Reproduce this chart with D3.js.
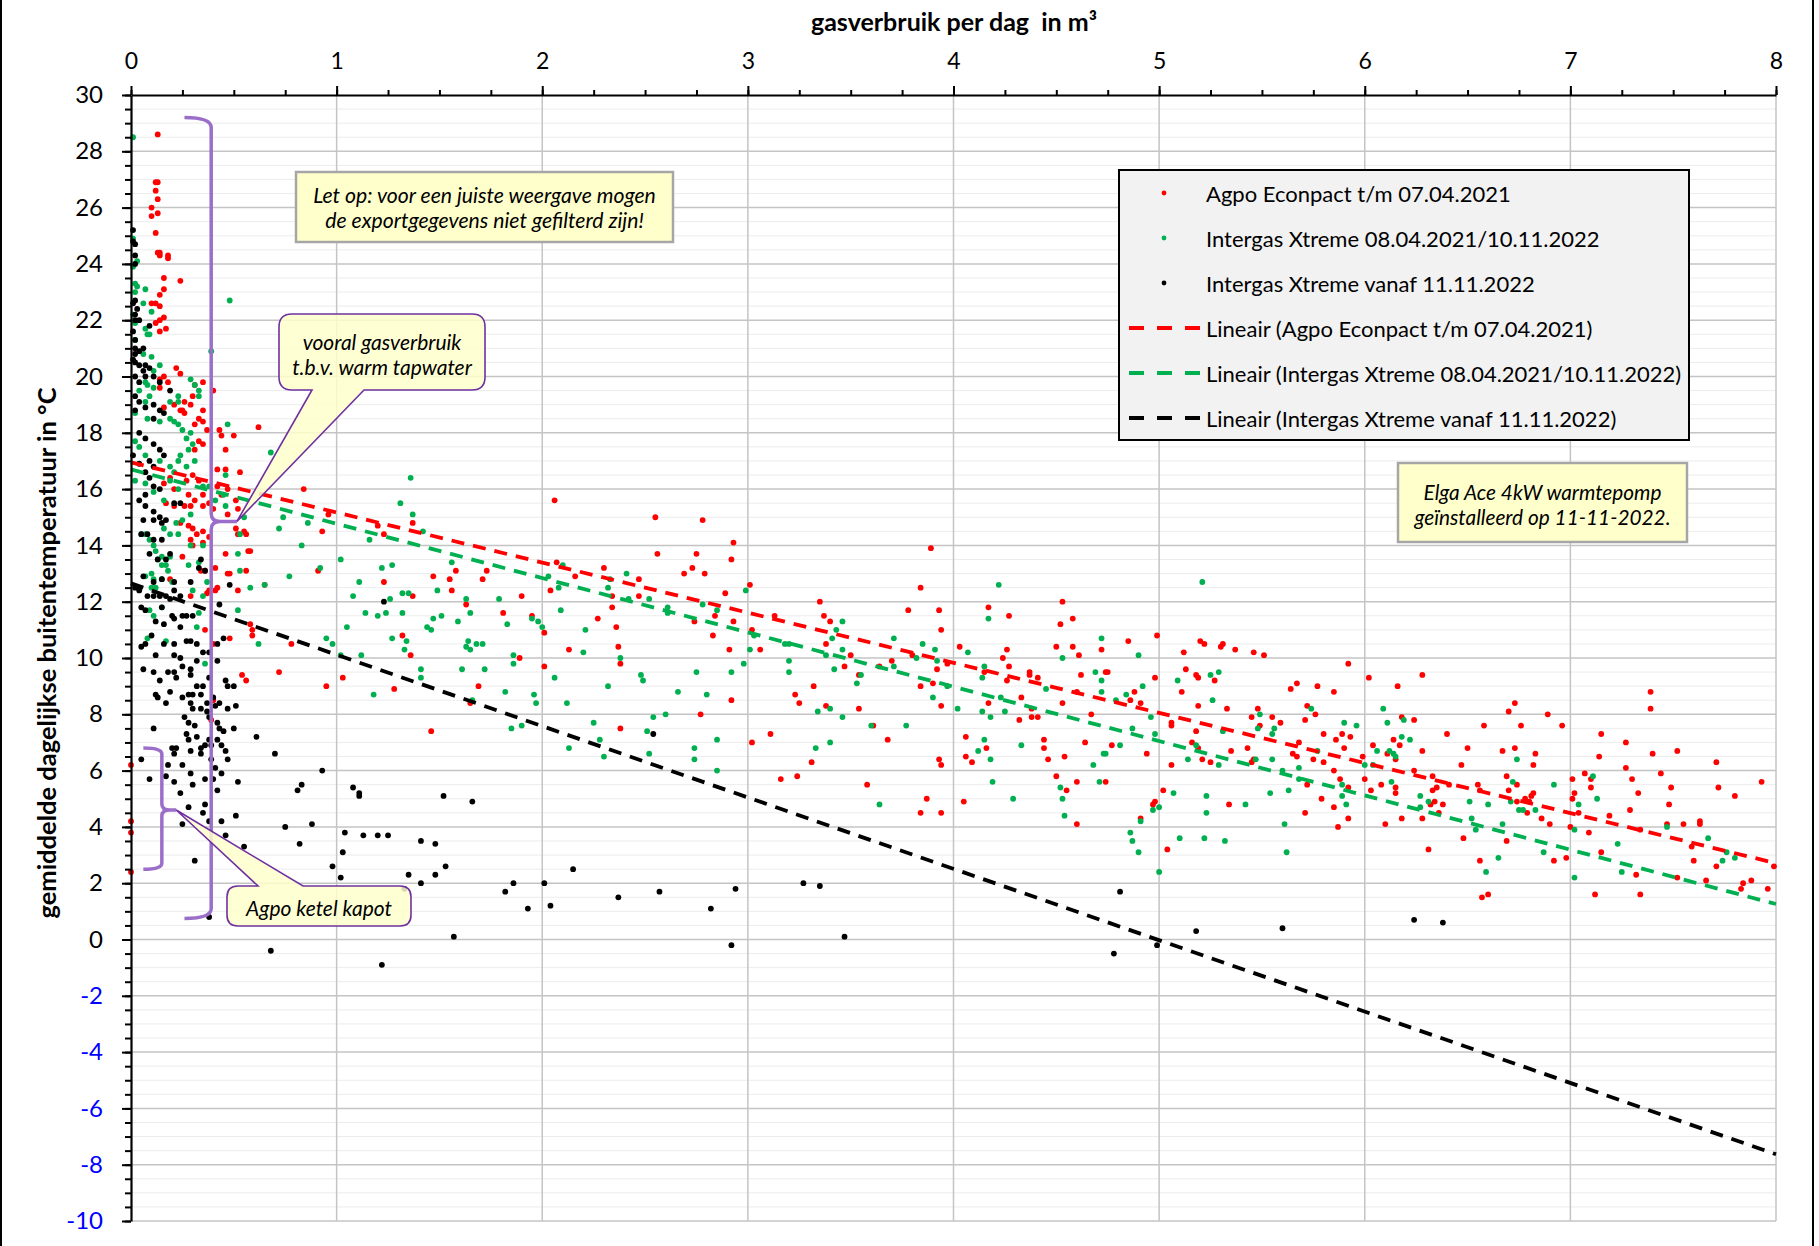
<!DOCTYPE html>
<html>
<head>
<meta charset="utf-8">
<script src="https://cdn.jsdelivr.net/npm/d3@7"></script>
<style>
  body { margin: 0; background: #fff; }
  svg { display: block; font-family: Lato, "Open Sans", sans-serif; }
</style>
</head>
<body>
<script>
// gasverbruik (m3/dag) vs gemiddelde buitentemperatuur
const agpoPoints = [
  [0.13,28.6],[0.12,26.9],[0.13,26.9],[0.12,26.6],[0.13,26.3],[0.1,26.0],[0.13,25.8],[0.1,25.7],[0.12,25.1],[0.13,24.4],[0.14,24.4],[0.14,24.3],[0.18,24.3],[0.18,24.2],[0.16,23.5],[0.24,23.4],[0.16,23.1],[0.14,22.9],[0.12,22.6],[0.1,22.6],[0.14,22.5],[0.16,22.1],[0.14,22.0],[0.12,21.9],[0.17,21.7],[0.14,21.6],
  [0.22,20.3],[0.24,20.1],[0.16,20.0],[0.14,19.9],[0.18,19.8],[0.14,19.6],[0.35,19.8],[0.4,19.5],[0.31,19.7],[0.3,19.3],[0.26,19.1],[0.29,19.0],[0.25,18.8],[0.35,18.8],[0.16,18.9],[0.21,19.0],[0.24,18.8],[0.26,18.7],[0.33,18.5],[0.35,18.4],[0.31,18.3],[0.37,18.1],[0.33,17.7],[0.35,17.6],[0.31,17.4],[0.43,18.1],[0.44,17.9],[0.5,17.9],[0.62,18.2],[0.46,17.4],[0.42,16.7],[0.46,16.7],[0.53,16.6],[0.84,16.0],
  [0.19,16.4],[0.16,16.2],[0.21,16.0],[0.27,16.3],[0.3,16.5],[0.33,16.3],[0.28,15.8],[0.29,15.4],[0.35,15.8],[0.38,15.5],[0.4,15.3],[0.42,16.1],[0.44,15.8],[0.47,16.0],[0.51,15.6],[0.52,15.3],
  [0.17,15.5],[0.21,15.4],[0.26,15.4],[0.31,15.6],[0.35,15.4],[0.24,14.8],[0.28,14.7],[0.3,14.6],[0.32,14.4],[0.35,14.5],[0.38,14.3],[0.29,14.2],[0.3,14.0],[0.35,14.1],[0.25,13.6],[0.34,13.1],[0.36,13.1],[0.41,13.2],[0.47,13.0],[0.48,13.0],[0.19,12.8],[0.38,12.4],[0.41,12.4],[0.42,12.5],[0.37,12.3],[0.29,12.2],[0.52,12.4],[0.46,13.7],[0.52,14.4],[0.55,14.5],[0.56,14.4],[0.47,15.1],[0.51,14.6],[0.58,13.8],[0.56,13.1],[0.65,12.6],[0.59,11.0],[0.59,10.8],[0.58,11.2],[0.48,10.7],[0.36,11.0],[0.4,10.5],[0.4,8.5],[0.39,7.8],[0.54,9.4],[0.56,9.2],[0.72,9.5],[0.78,10.5],[0.91,13.1],[0.93,14.5],[0.95,9.0],[0.57,13.8],
  [0,6.2],[0,4.2],[0,3.8],[0,2.4],
  [0.96,15.1],[1.2,14.7],[1.23,14.4],[1.37,14.8],[1.23,12.7],[1.37,12.2],[1.32,10.8],[1.36,10.1],[1.03,9.3],[1.28,8.9],[1.46,7.4],[1.47,12.9],[1.55,12.8],[1.56,12.4],[1.58,13.1],[1.63,11.9],[1.71,12.8],[1.73,13.1],[1.69,9.0],[1.65,8.4],[1.81,11.6],[1.9,12.2],[1.89,10.0],[1.95,11.5],[2.01,10.9],[2.01,9.7],[2.06,15.6],[2.07,13.4],[2.04,12.4],[2.13,10.3],[2.16,12.9],[2.27,11.4],[2.3,13.2],[2.34,12.2],[2.34,11.8],[2.36,11.1],[2.37,10.4],[2.38,9.8],[2.38,7.5],[2.47,12.8],[2.47,12.2],[2.55,15.0],[2.56,13.7],[2.69,13.0],[2.73,13.2],[2.75,13.7],[2.78,14.9],[2.79,13.0],[2.74,11.3],[2.83,10.8],[2.77,8.0],[2.84,11.5],[2.89,12.3],[2.93,14.1],[2.92,13.5],[2.93,11.3],[2.91,10.3],[2.92,8.5],[3.01,12.6],[3.02,11.0],[3.06,10.3],[3.02,7.0],[3.11,7.3],[3.16,5.7],[3.24,5.8],[3.13,11.5],[3.23,8.7],[3.25,8.4],[3.31,6.3],[3.32,9.0],[3.35,12.0],[3.37,11.5],[3.38,10.5],[3.38,8.3],
  [3.4,11.3],[3.47,9.7],[3.5,10.1],[3.54,8.2],[3.54,9.4],[3.58,5.5],[3.61,7.6],[3.64,9.7],[3.68,7.1],[3.7,9.9],[3.78,11.7],[3.8,10.1],[3.84,12.5],[3.89,13.9],[3.84,9.0],[3.87,5.0],[3.84,4.5],[3.9,9.1],[3.92,9.6],[3.93,11.7],[3.94,11.0],[3.94,8.3],[3.93,6.4],[3.94,6.2],[3.94,4.5],[3.97,9.8],[4.03,10.4],[4.05,4.9],[4.06,7.2],[4.06,6.5],[4.09,6.3],[4.15,9.5],[4.16,6.8],[4.17,8.4],[4.17,11.8],[4.24,10.0],[4.27,9.7],[4.26,10.3],[4.27,11.5],[4.26,9.2],[4.32,7.8],[4.33,8.6],[4.37,9.5],[4.37,9.4],[4.38,8.2],[4.41,7.9],[4.38,7.9],[4.41,9.3],[4.44,7.1],[4.44,6.8],[4.46,6.4],[4.5,5.8],[4.5,10.4],[4.52,11.2],[4.53,12.0],[4.58,11.4],[4.53,8.4],[4.55,5.3],[4.54,6.5],[4.58,10.4],[4.6,8.8],[4.6,5.6],[4.6,4.1],[4.61,10.1],[4.62,9.4],[4.64,7.0],[4.67,8.0],[4.72,10.3],[4.74,9.5],[4.75,9.5],[4.74,5.6],[4.77,6.9],[4.85,10.6],[4.86,8.5],[4.88,8.8],[4.91,8.4],[4.94,6.6],[4.98,9.3],[4.99,10.8],[4.98,4.9],[4.97,4.8],[4.91,4.3],[5.02,5.3],[5.04,3.2],[5.06,7.7],[5.06,7.6],[5.06,6.2],[5.12,10.2],[5.13,9.6],[5.11,8.8],[5.18,9.4],[5.19,9.3],[5.19,8.3],[5.18,7.4],[5.16,7.0],[5.19,6.8],[5.2,10.6],[5.22,10.5],[5.21,6.4],[5.25,6.3],[5.27,9.2],[5.3,10.4],[5.31,10.5],[5.33,8.2],[5.34,4.8],[5.35,6.7],[5.37,10.3],[5.43,6.8],[5.46,10.2],[5.45,7.9],[5.46,6.4],[5.45,6.3],[5.48,8.2],[5.49,7.6],[5.51,10.1],[5.55,7.9],[5.59,7.7],[5.64,8.9],[5.67,9.1],[5.71,7.8],[5.72,8.3],[5.68,7.0],[5.65,6.6],[5.67,6.5],[5.71,4.5],[5.72,5.5],[5.75,6.4],[5.77,9.0],[5.76,8.0],
  [5.85,8.8],[5.92,9.8],[5.8,7.3],[5.86,7.1],[5.89,7.3],[5.93,7.2],[5.9,6.8],[5.8,6.3],[5.85,6.0],[5.88,5.7],[5.79,5.0],[5.85,4.7],[5.92,5.4],[5.92,4.3],[5.87,4.0],[6.02,9.3],[6.16,9.0],[6.28,9.4],[5.99,6.5],[6.0,5.7],[6.03,5.3],[6.04,6.9],[6.08,5.5],[6.1,4.1],[6.11,6.6],[6.14,7.1],[6.17,6.9],[6.15,6.4],[6.15,5.4],[6.15,5.2],[6.18,7.9],[6.18,4.3],[6.24,7.8],[6.24,6.0],[6.28,6.7],[6.28,4.3],[6.31,3.2],[6.33,5.8],[6.33,5.3],[6.35,5.4],[6.32,4.8],[6.34,4.9],[6.36,4.5],[6.38,4.8],[6.4,7.3],[6.41,5.5],[6.47,6.2],[6.48,3.6],[6.5,6.8],[6.55,5.5],[6.56,5.3],[6.56,2.8],[6.57,1.5],[6.6,1.6],[6.58,7.6],[6.67,6.7],[6.69,5.8],[6.7,8.1],[6.73,8.4],[6.73,6.8],[6.74,5.5],[6.7,5.3],[6.69,3.5],[6.76,7.6],[6.74,4.9],[6.78,5.0],[6.8,4.9],[6.81,5.1],[6.82,5.2],[6.79,4.5],[6.82,6.2],[6.83,6.6],[6.86,4.3],[6.89,8.0],[6.9,4.1],[6.92,2.8],[6.96,7.6],[6.98,2.9],[7.0,4.0],[7.01,5.7],[7.01,5.0],[7.02,5.2],[7.04,4.5],[7.07,5.9],[7.09,3.8],[7.1,5.7],[7.1,5.4],[7.12,1.6],[7.14,6.5],[7.15,7.3],[7.15,3.1],[7.19,4.4],[7.27,7.0],[7.27,6.1],[7.29,4.6],[7.3,5.7],[7.33,5.2],[7.32,2.3],[7.34,1.6],[7.34,3.9],[7.39,8.8],[7.39,8.2],[7.4,6.6],[7.44,5.9],[7.47,4.1],[7.48,4.8],[7.49,5.4],[7.52,6.7],[7.52,2.2],[7.55,4.1],[7.59,3.3],[7.6,2.8],[7.63,4.2],[7.63,4.1],[7.66,2.1],[7.71,6.3],[7.71,2.6],[7.72,5.4],[7.8,5.1],[7.83,1.8],[7.84,2.0],[7.88,2.1],[7.93,5.6],[7.96,1.8],[7.99,2.6]
];

const intergasPoints = [
  [0.01,28.5],[0.01,24.9],[0.01,23.9],[0.03,24.1],[0.02,23.3],[0.03,23.2],[0.07,23.1],[0.02,23.0],[0.06,22.6],[0.1,22.3],[0.01,22.2],[0.02,21.9],[0.07,21.7],[0.08,21.5],[0.09,21.5],[0.48,22.7],[0.39,20.9],[0.02,21.3],[0.06,20.8],[0.1,20.7],[0.14,20.4],[0.11,20.2],[0.29,19.9],[0.31,19.7],[0.33,19.5],[0.33,19.3],[0.23,19.3],[0.23,19.1],[0.19,19.1],[0.04,19.5],[0.07,19.8],[0.08,19.7],[0.11,19.6],[0.09,19.3],[0.07,19.1],[0.02,18.7],[0.08,18.5],[0.14,18.4],[0.19,18.5],[0.21,18.4],[0.23,18.3],[0.25,18.1],[0.29,18.0],[0.27,17.8],[0.3,17.6],[0.28,17.4],[0.24,17.2],[0.47,18.3],[0.68,17.3],[0.46,16.5],[0.02,17.7],[0.04,17.5],[0.07,17.2],[0.14,17.0],[0.19,16.8],[0.21,16.6],[0.23,17.0],[0.02,16.3],[0.07,16.2],[0.11,15.9],[0.16,15.6],[0.19,16.3],[0.23,16.0],[0.27,16.8],[0.31,17.0],[0.35,16.1],[0.38,16.1],[0.41,15.6],[0.45,15.8],[0.46,15.4],[0.55,15.0],[0.74,15.0],
  [0.05,14.4],[0.07,14.4],[0.09,14.2],[0.11,14.0],[0.12,13.8],[0.15,13.6],[0.13,13.5],[0.15,13.3],[0.17,13.3],[0.19,13.6],[0.18,13.1],[0.07,12.9],[0.1,13.0],[0.11,12.8],[0.15,12.8],[0.2,12.7],[0.12,12.5],[0.1,12.5],[0.09,11.7],[0.11,11.5],[0.15,11.8],[0.08,10.7],[0.17,10.6],[0.28,13.3],[0.33,13.4],[0.29,14.0],[0.35,14.0],[0.37,12.7],[0.35,12.2],[0.23,14.4],[0.25,14.9],[0.29,15.1],[0.22,14.8],[0.16,14.6],[0.19,14.4],[0.3,12.4],[0.32,11.1],[0.33,11.6],[0.36,9.8],[0.52,13.7],[0.53,13.1],[0.58,12.5],[0.65,12.6],[0.52,11.7],[0.62,10.5],[0.72,14.6],[0.83,14.0],[0.77,12.9],[0.86,14.8],[0.92,13.2],[0.95,10.7],[0.53,14.4],
  [1.36,16.4],[1.31,15.5],[1.37,15.1],[1.42,14.5],[1.16,14.2],[1.02,13.5],[1.22,13.2],[1.27,13.3],[1.11,12.7],[1.08,12.2],[1.32,12.3],[1.35,12.3],[1.26,12.1],[1.14,11.6],[1.2,11.5],[1.24,11.6],[1.32,11.6],[1.05,11.1],[0.98,10.5],[1.02,10.1],[1.12,10.1],[1.27,10.7],[1.34,10.6],[1.33,10.3],[1.18,8.7],[1.41,9.6],[1.41,9.3],[1.44,11.1],[1.46,11.0],[1.47,11.4],[1.51,11.5],[1.49,12.4],[1.56,13.4],[1.59,11.3],[1.63,12.1],[1.65,11.6],[1.64,10.6],[1.63,10.4],[1.65,10.3],[1.68,10.5],[1.71,10.5],[1.61,9.6],[1.72,9.6],[1.66,8.5],[1.79,12.1],[1.83,11.2],[1.82,8.8],[1.85,7.5],[1.9,7.6],[1.86,10.1],[1.86,9.8],[1.95,11.4],[1.98,11.3],[2.0,11.1],[1.96,8.7],[1.97,8.4],[2.03,12.9],[2.08,12.5],[2.1,13.3],[2.09,11.7],[2.06,9.3],[2.12,8.4],[2.13,6.8],[2.21,11.0],[2.2,10.2],[2.25,7.7],[2.28,7.1],[2.3,6.5],[2.32,12.5],[2.33,12.8],[2.32,9.0],[2.38,10.0],[2.41,13.0],[2.42,12.1],[2.48,9.4],[2.49,9.2],[2.52,12.1],[2.54,7.9],[2.51,7.4],[2.52,6.6],[2.6,8.0],[2.61,11.8],[2.61,11.6],[2.66,8.8],[2.75,9.5],[2.74,6.8],[2.74,6.4],[2.78,11.9],[2.8,8.7],[2.85,11.7],[2.85,7.1],[2.85,6.0],[2.92,9.5],[2.98,9.8],[2.99,12.4],[3.01,10.3],[3.03,10.8],[3.18,10.5],[3.2,10.5],[3.2,9.9],[3.2,9.5],[3.34,8.1],[3.33,6.8],[3.38,10.1],
  [3.4,8.2],[3.4,7.0],[3.42,9.6],[3.41,10.7],[3.43,11.0],[3.46,11.3],[3.46,10.3],[3.46,7.9],[3.53,9.1],[3.55,9.4],[3.6,7.6],[3.64,4.8],[3.71,10.7],[3.71,9.7],[3.77,7.6],[3.82,10.0],[3.85,10.5],[3.91,10.3],[3.92,9.9],[3.9,8.6],[3.97,9.0],[4.02,8.2],[4.07,10.2],[4.14,9.3],[4.15,9.7],[4.14,8.1],[4.15,7.1],[4.12,6.7],[4.17,11.4],[4.18,7.9],[4.18,6.4],[4.19,5.6],[4.22,12.6],[4.23,8.6],[4.25,8.1],[4.29,5.0],[4.33,6.9],[4.45,8.9],[4.52,5.4],[4.53,5.0],[4.54,4.4],[4.53,10.0],[4.68,6.2],[4.69,9.5],[4.72,10.7],[4.72,9.2],[4.72,8.8],[4.71,5.6],[4.73,6.6],[4.74,6.6],[4.79,8.5],[4.81,6.9],[4.84,8.7],[4.87,7.5],[4.9,10.1],[4.92,9.0],[4.86,3.8],[4.87,3.5],[4.9,3.1],[4.91,4.2],[4.96,7.9],[4.97,4.6],[4.98,7.3],[5.0,4.7],[5.0,2.4],[5.07,5.2],[5.09,9.2],[5.1,3.6],[5.14,6.4],[5.18,6.9],[5.21,12.7],[5.23,5.1],[5.23,4.5],[5.22,3.6],[5.25,9.4],[5.29,9.5],[5.26,8.5],[5.29,6.2],[5.31,7.4],[5.32,3.5],[5.42,4.8],[5.47,6.4],[5.48,7.5],[5.49,8.0],[5.54,5.2],[5.55,7.3],[5.56,7.5],[5.55,6.4],[5.6,6.0],[5.61,4.1],[5.62,3.1],[5.63,5.3],[5.68,6.1],[5.68,5.7],[5.74,8.2],[5.77,6.7],
  [5.89,5.5],[5.89,5.1],[5.91,4.8],[5.9,7.7],[5.96,7.6],[6.0,6.2],[6.04,6.2],[6.06,6.7],[6.09,8.2],[6.11,7.7],[6.12,6.7],[6.13,5.6],[6.14,6.6],[6.15,6.5],[6.18,7.2],[6.19,7.8],[6.22,7.1],[6.27,5.1],[6.27,4.7],[6.31,4.9],[6.51,4.9],[6.52,4.3],[6.54,3.9],[6.59,2.4],[6.6,4.8],[6.65,2.9],[6.67,4.1],[6.71,4.9],[6.72,5.6],[6.74,6.4],[6.75,4.6],[6.77,4.6],[6.83,4.6],[6.87,3.1],[6.92,5.5],[7.02,3.9],[7.02,2.2],[7.04,4.8],[7.11,5.8],[7.13,5.0],[7.23,3.4],[7.25,2.4],[7.47,4.0],[7.67,3.6],[7.74,2.8],[7.76,3.1],[7.8,2.9]
];

const elgaPoints = [
  [0.01,25.2],[0.01,24.8],[0.02,24.7],[0.02,24.3],[0.02,24.0],[0.02,22.7],[0.01,22.6],[0.02,22.2],[0.03,22.4],[0.02,22.0],[0.04,22.0],[0.09,21.8],[0.01,21.6],[0.02,21.3],[0.02,21.0],[0.02,20.8],[0.04,20.9],[0.06,21.0],[0.01,20.6],[0.02,20.5],[0.04,20.4],[0.07,20.4],[0.09,20.3],[0.06,20.2],[0.02,20.0],[0.04,19.8],[0.07,20.0],[0.11,20.0],[0.14,19.8],[0.19,19.5],[0.02,19.3],[0.04,19.1],[0.02,18.8],[0.07,18.9],[0.11,19.0],[0.14,18.8],[0.16,18.7],[0.11,18.5],[0.04,18.0],[0.07,17.8],[0.11,17.6],[0.14,17.4],[0.16,17.2],[0.09,17.0],[0.11,16.8],[0.07,16.6],[0.04,16.9],[0.01,17.2],[0.09,16.4],[0.11,16.1],[0.14,16.0],[0.07,15.8],[0.04,15.6],[0.07,15.4],[0.11,15.2],[0.21,15.5],[0.24,15.5],[0.14,15.0],
  [0.06,14.9],[0.11,14.9],[0.15,14.8],[0.17,14.9],[0.05,14.4],[0.08,14.4],[0.11,14.2],[0.15,14.2],[0.09,13.7],[0.13,13.5],[0.19,13.7],[0.17,13.5],[0.06,12.9],[0.11,12.7],[0.15,12.8],[0.21,12.7],[0.21,12.4],[0.02,12.5],[0.04,12.4],[0.08,12.2],[0.11,12.2],[0.14,12.2],[0.17,12.2],[0.19,12.1],[0.24,12.2],[0.29,12.7],[0.34,13.5],[0.33,13.2],[0.36,13.1],[0.48,12.6],[0.43,11.9],
  [0.05,11.8],[0.07,11.7],[0.15,11.8],[0.2,11.5],[0.25,11.5],[0.21,11.4],[0.27,11.5],[0.3,11.5],[0.16,11.2],[0.12,11.3],[0.24,11.1],[0.1,10.8],[0.07,10.5],[0.05,10.4],[0.16,10.5],[0.21,10.5],[0.27,10.6],[0.29,10.6],[0.32,10.5],[0.35,10.2],[0.38,10.2],[0.42,10.5],[0.45,10.7],[0.12,10.1],[0.21,10.1],[0.24,10.0],[0.25,9.7],[0.29,9.6],[0.32,9.9],[0.42,9.9],[0.06,9.6],[0.11,9.5],[0.18,9.5],[0.21,9.5],[0.14,9.2],[0.19,8.8],[0.22,9.3],[0.29,9.4],[0.32,9.0],[0.35,9.0],[0.38,9.3],[0.46,9.2],[0.12,8.7],[0.13,8.6],[0.17,8.4],[0.25,8.6],[0.28,8.7],[0.29,8.4],[0.3,8.7],[0.34,8.7],[0.37,8.4],[0.4,8.6],[0.43,8.4],[0.47,9.0],[0.5,9.0],[0.51,8.3],[0.3,8.2],[0.34,8.2],[0.37,8.1],[0.41,8.3],[0.47,8.2],
  [0.11,7.5],[0.26,7.9],[0.28,7.7],[0.31,7.6],[0.38,7.9],[0.42,7.7],[0.43,7.5],[0.5,7.5],[0.27,7.3],[0.28,7.1],[0.32,7.2],[0.38,7.1],[0.45,7.4],[0.42,7.1],[0.2,6.8],[0.22,6.8],[0.21,6.6],[0.29,6.7],[0.34,6.6],[0.34,6.8],[0.36,6.9],[0.39,6.9],[0.44,6.9],[0.46,6.7],[0.47,6.4],[0.05,6.4],[0.18,6.2],[0.25,6.2],[0.29,5.9],[0.39,6.4],[0.41,6.1],[0.44,5.9],[0.09,5.7],[0.17,5.8],[0.21,5.6],[0.3,5.5],[0.36,5.7],[0.4,5.7],[0.42,5.3],[0.24,5.2],[0.52,5.6],[0.28,4.7],[0.35,4.5],[0.36,4.8],[0.38,4.2],[0.44,4.2],[0.51,4.4],[0.25,4.1],[0.46,3.7],[0.55,3.3],[0.31,2.8],[0.38,0.8],
  [0.61,7.2],[0.7,6.6],[0.93,6.0],[0.81,5.3],[0.83,5.5],[0.88,4.1],[0.75,4.0],[0.82,3.4],[0.68,-0.4],
  [1.23,12.0],[1.08,5.4],[1.11,5.2],[1.11,5.1],[1.52,5.1],[1.66,4.9],[1.04,3.8],[1.03,3.1],[1.13,3.7],[1.2,3.7],[1.25,3.7],[1.41,3.5],[1.48,3.4],[0.98,2.6],[1.02,2.2],[1.35,2.3],[1.33,1.8],[1.41,2.0],[1.48,2.3],[1.53,2.6],[1.57,0.1],[1.22,-0.9],[1.82,1.7],[1.86,2.0],[1.93,1.1],[2.01,2.0],[2.04,1.2],[2.15,2.5],[2.37,1.5],[2.54,7.3],[2.57,1.7],[2.82,1.1],[2.94,1.8],[2.92,-0.2],[3.27,2.0],[3.35,1.9],
  [3.47,0.1],[4.81,1.7],[4.78,-0.5],[4.99,-0.2],[5.18,0.3],[5.6,0.4],[6.24,0.7],[6.38,0.6]
];

const seriesNames = ["Agpo Econpact t/m 07.04.2021", "Intergas Xtreme 08.04.2021/10.11.2022", "Intergas Xtreme vanaf 11.11.2022"];
const seriesColors = ["#ff0000", "#00b050", "#000000"];
// linear trendlines: [intercept, slope]
const trendCoefs = [[16.95, -1.78], [16.7, -1.93], [12.65, -2.535]];
const xTickValues = [0, 1, 2, 3, 4, 5, 6, 7, 8];
const yTickValues = [-10, -8, -6, -4, -2, 0, 2, 4, 6, 8, 10, 12, 14, 16, 18, 20, 22, 24, 26, 28, 30];

const W = 1819, H = 1246;
const x = d3.scaleLinear().domain([0, 8]).range([131, 1776]);
const y = d3.scaleLinear().domain([-10, 30]).range([1221, 95]);

const svg = d3.select("body").append("svg").attr("width", W).attr("height", H);
svg.append("rect").attr("width", W).attr("height", H).attr("fill", "#fff");

// outer frame bits at the left and right edge
svg.append("line").attr("x1", 1).attr("x2", 1).attr("y1", 0).attr("y2", H).attr("stroke", "#000").attr("stroke-width", 2);
svg.append("line").attr("x1", 1813).attr("x2", 1813).attr("y1", 0).attr("y2", H).attr("stroke", "#000").attr("stroke-width", 2);

// gridlines
const grid = svg.append("g");
grid.selectAll(".minor").data(d3.range(-10, 30.01, 0.5).filter(v => v % 2 !== 0))
  .join("line").attr("x1", x(0)).attr("x2", x(8)).attr("y1", d => y(d)).attr("y2", d => y(d))
  .attr("stroke", "#ececec").attr("stroke-width", 1);
grid.selectAll(".majorY").data(yTickValues.filter(v => v < 30))
  .join("line").attr("x1", x(0)).attr("x2", x(8)).attr("y1", d => y(d)).attr("y2", d => y(d))
  .attr("stroke", "#c4c4c4").attr("stroke-width", 1.5);
grid.selectAll(".majorX").data(xTickValues.filter(v => v > 0))
  .join("line").attr("x1", d => x(d)).attr("x2", d => x(d)).attr("y1", y(30)).attr("y2", y(-10))
  .attr("stroke", "#c4c4c4").attr("stroke-width", 1.5);

// points
const dots = svg.append("g");
[agpoPoints, intergasPoints, elgaPoints].forEach((pts, i) => {
  dots.append("g").selectAll("circle").data(pts).join("circle")
    .attr("cx", d => x(d[0])).attr("cy", d => y(d[1])).attr("r", 2.9)
    .attr("fill", seriesColors[i]);
});

// trendlines
const line = d3.line().x(d => x(d[0])).y(d => y(d[1]));
trendCoefs.forEach((c, i) => {
  svg.append("path").datum([[0, c[0]], [8, c[0] + 8 * c[1]]])
    .attr("d", line).attr("fill", "none").attr("stroke", seriesColors[i])
    .attr("stroke-width", 3.8).attr("stroke-dasharray", "13 9");
});

// axes
const xAxis = svg.append("g").attr("transform", `translate(0,${y(30)})`)
  .call(d3.axisTop(x).tickValues(xTickValues).tickFormat(d => String(d)).tickSize(9).tickSizeOuter(0).tickPadding(17));
svg.append("g").attr("transform", `translate(0,${y(30)})`)
  .call(d3.axisTop(x).tickValues(d3.range(0, 8.01, 0.25)).tickFormat("").tickSize(5).tickSizeOuter(0))
  .select(".domain").remove();
const yAxis = svg.append("g").attr("transform", `translate(${x(0)},0)`)
  .call(d3.axisLeft(y).tickValues(yTickValues).tickFormat(d => String(d)).tickSize(9).tickSizeOuter(0).tickPadding(19));
svg.append("g").attr("transform", `translate(${x(0)},0)`)
  .call(d3.axisLeft(y).tickValues(d3.range(-10, 30.01, 0.5)).tickFormat("").tickSize(6).tickSizeOuter(0))
  .select(".domain").remove();

svg.selectAll(".domain").attr("stroke", "#000").attr("stroke-width", 2.2);
svg.selectAll(".tick line").attr("stroke", "#000").attr("stroke-width", 2);
xAxis.selectAll("text").attr("font-size", 23).attr("font-family", "Lato").attr("fill", "#000");
yAxis.selectAll("text").attr("font-size", 24).attr("font-family", "Lato")
  .attr("fill", d => d < 0 ? "#0000ff" : "#000");

// axis titles
svg.append("text").attr("x", 954).attr("y", 21).attr("text-anchor", "middle").attr("dominant-baseline", "central")
  .attr("font-size", 25).attr("font-weight", "bold").style("white-space", "pre")
  .text("gasverbruik per dag  in m³");
svg.append("text").attr("transform", "translate(46,653) rotate(-90)").attr("text-anchor", "middle")
  .attr("dominant-baseline", "central").attr("font-size", 25.5).attr("font-weight", "bold")
  .text("gemiddelde dagelijkse buitentemperatuur in °C");

// legend
const lg = svg.append("g");
lg.append("rect").attr("x", 1119).attr("y", 170).attr("width", 570).attr("height", 270)
  .attr("fill", "#f2f2f2").attr("stroke", "#000").attr("stroke-width", 2);
const legendRows = seriesNames.map((n, i) => ({ name: n, color: seriesColors[i], kind: "dot" }))
  .concat(seriesNames.map((n, i) => ({ name: `Lineair (${n})`, color: seriesColors[i], kind: "line" })));
legendRows.forEach((r, i) => {
  const cy = 193 + i * 45;
  if (r.kind === "dot") {
    lg.append("circle").attr("cx", 1164).attr("cy", cy).attr("r", 2.4).attr("fill", r.color);
  } else {
    lg.append("line").attr("x1", 1129).attr("x2", 1200).attr("y1", cy).attr("y2", cy)
      .attr("stroke", r.color).attr("stroke-width", 3.8).attr("stroke-dasharray", "15 13");
  }
  lg.append("text").attr("x", 1206).attr("y", cy).attr("dominant-baseline", "central")
    .attr("font-size", 22).text(r.name);
});

// note boxes
function noteBox(x0, y0, x1, y1, lines, ys, fs) {
  svg.append("rect").attr("x", x0).attr("y", y0).attr("width", x1 - x0).attr("height", y1 - y0)
    .attr("fill", "#ffffcc").attr("stroke", "#a6a6a6").attr("stroke-width", 2.5);
  lines.forEach((t, i) => svg.append("text").attr("x", (x0 + x1) / 2).attr("y", ys[i])
    .attr("text-anchor", "middle").attr("dominant-baseline", "central")
    .attr("font-size", fs).attr("font-style", "italic").text(t));
}
noteBox(296, 172, 673, 242, ["Let op: voor een juiste weergave mogen", "de exportgegevens niet gefilterd zijn!"], [195, 220], 21.2);
noteBox(1398, 463, 1687, 542, ["Elga Ace 4kW warmtepomp", "geïnstalleerd op 11-11-2022."], [491, 516], 20.8);

// braces
const brace = "#9b6fc9";
const bx = x(0.39), bt = y(29.2), bb = y(0.75), bm = y(14.85);
svg.append("path").attr("fill", "none").attr("stroke", brace).attr("stroke-width", 3.5)
  .attr("d", `M${x(0.26)},${bt} Q${bx},${bt} ${bx},${bt + 10} L${bx},${bm - 8} Q${bx},${bm} ${bx + 9},${bm} L${x(0.515)},${bm}
              M${bx + 9},${bm} Q${bx},${bm} ${bx},${bm + 8} L${bx},${bb - 10} Q${bx},${bb} ${x(0.26)},${bb}`);
const sx = x(0.15), st = y(6.8), sb = y(2.5), sm = y(4.6);
svg.append("path").attr("fill", "none").attr("stroke", brace).attr("stroke-width", 3.5)
  .attr("d", `M${x(0.06)},${st} Q${sx},${st} ${sx},${st + 6} L${sx},${sm - 6} Q${sx},${sm} ${sx + 8},${sm} L${x(0.22)},${sm}
              M${sx + 8},${sm} Q${sx},${sm} ${sx},${sm + 6} L${sx},${sb - 6} Q${sx},${sb} ${x(0.06)},${sb}`);

// callouts with a pointer
function callout(x0, y0, x1, y1, r, side, b0, b1, tx, ty, lines, ys) {
  let d = `M${x0 + r},${y0}`;
  if (side === "top") d += ` H${b0} L${tx},${ty} L${b1},${y0}`;
  d += ` H${x1 - r} Q${x1},${y0} ${x1},${y0 + r} V${y1 - r} Q${x1},${y1} ${x1 - r},${y1}`;
  if (side === "bottom") d += ` H${b1} L${tx},${ty} L${b0},${y1}`;
  d += ` H${x0 + r} Q${x0},${y1} ${x0},${y1 - r} V${y0 + r} Q${x0},${y0} ${x0 + r},${y0} Z`;
  svg.append("path").attr("d", d).attr("fill", "#ffffcc").attr("fill-opacity", 0.85)
    .attr("stroke", "#7030a0").attr("stroke-width", 1.6);
  lines.forEach((t, i) => svg.append("text").attr("x", (x0 + x1) / 2).attr("y", ys[i])
    .attr("text-anchor", "middle").attr("dominant-baseline", "central")
    .attr("font-size", 21).attr("font-style", "italic").text(t));
}
callout(279, 314, 485, 390, 13, "bottom", 312, 364, x(0.515), bm,
  ["vooral gasverbruik", "t.b.v. warm tapwater"], [341, 366]);
callout(227, 886, 411, 926, 11, "top", 258, 303, x(0.22), sm,
  ["Agpo ketel kapot"], [907]);
</script>
</body>
</html>
